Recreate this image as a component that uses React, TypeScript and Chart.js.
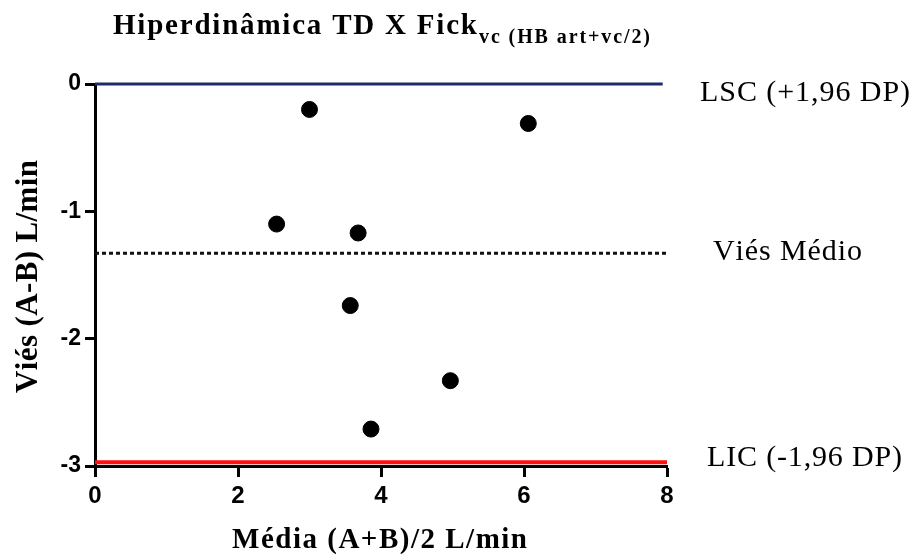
import React, { useEffect, useRef } from "react";
import { Chart, registerables } from "chart.js";

Chart.register(...registerables);

// ---- data ----
const meanX = [3.0, 6.06, 2.54, 3.68, 3.57, 4.97, 3.86];
const diffY = [-0.2, -0.31, -1.1, -1.17, -1.74, -2.33, -2.71];
const upperLimit = 0;
const meanBias = -1.33;
const lowerLimit = -2.97;
const xTicks = [0, 2, 4, 6, 8];
const yTicks = [0, -1, -2, -3];
const limitLabels = ["LSC (+1,96 DP)", "Viés Médio", "LIC (-1,96 DP)"];
const titleMain = "Hiperdinâmica TD X Fick";
const titleSub = "vc (HB art+vc/2)";
const xTitle = "Média (A+B)/2 L/min";
const yTitle = "Viés (A-B) L/min";

const SERIF = "'Liberation Serif', 'Times New Roman', Times, serif";
const SANS = "'Liberation Sans', Arial, Helvetica, sans-serif";

function drawSpaced(ctx: CanvasRenderingContext2D, text: string, x: number, y: number, width: number) {
  const chars = Array.from(text);
  const widths = chars.map((c) => ctx.measureText(c).width);
  const total = widths.reduce((a, b) => a + b, 0);
  const gap = chars.length > 1 ? (width - total) / (chars.length - 1) : 0;
  let cx = x;
  chars.forEach((c, i) => {
    ctx.fillText(c, cx, y);
    cx += widths[i] + gap;
  });
}

const textPlugin = {
  id: "textPlugin",
  afterDraw(chart: any) {
    const ctx: CanvasRenderingContext2D = chart.ctx;
    const ys = chart.scales.y;
    ctx.save();
    ctx.fillStyle = "#000";
    ctx.textAlign = "left";
    ctx.textBaseline = "alphabetic";
    // title
    ctx.font = `bold 29px ${SERIF}`;
    drawSpaced(ctx, titleMain, 113, 34, 364);
    ctx.font = `bold 20px ${SERIF}`;
    drawSpaced(ctx, titleSub, 479, 43, 171);
    // x title
    ctx.font = `bold 29px ${SERIF}`;
    drawSpaced(ctx, xTitle, 232, 548, 295);
    // y title
    ctx.save();
    ctx.font = `bold 31px ${SERIF}`;
    ctx.translate(37, 393);
    ctx.rotate(-Math.PI / 2);
    drawSpaced(ctx, yTitle, 0, 0, 233);
    ctx.restore();
    // right labels
    ctx.font = `30px ${SERIF}`;
    ctx.textBaseline = "middle";
    drawSpaced(ctx, limitLabels[0], 700, ys.getPixelForValue(upperLimit) + 9, 210);
    drawSpaced(ctx, limitLabels[1], 713, ys.getPixelForValue(meanBias) - 1, 149);
    drawSpaced(ctx, limitLabels[2], 707, ys.getPixelForValue(lowerLimit) - 4, 195);
    ctx.restore();
  },
};

export default function App() {
  const ref = useRef<HTMLCanvasElement>(null);
  useEffect(() => {
    if (!ref.current) return;
    const chart = new Chart(ref.current, {
      type: "scatter",
      data: {
        datasets: [
          {
            label: "pts",
            data: meanX.map((x, i) => ({ x, y: diffY[i] })),
            backgroundColor: "#000",
            borderColor: "#000",
            pointRadius: 8,
            pointHoverRadius: 8,
            order: 0,
          },
          {
            label: "LSC",
            data: [{ x: 0, y: upperLimit }, { x: 7.94, y: upperLimit }],
            showLine: true,
            borderColor: "#1b2d6b",
            borderWidth: 3,
            pointRadius: 0,
            clip: false,
            order: 1,
          },
          {
            label: "mean",
            data: [{ x: 0, y: meanBias }, { x: 8, y: meanBias }],
            showLine: true,
            borderColor: "#111",
            borderWidth: 3,
            borderDash: [4, 3],
            pointRadius: 0,
            clip: false,
            order: 1,
          },
          {
            label: "LIC",
            data: [{ x: 0, y: lowerLimit }, { x: 8, y: lowerLimit }],
            showLine: true,
            borderColor: "#ff1010",
            borderWidth: 4,
            pointRadius: 0,
            clip: false,
            order: 1,
          },
        ],
      },
      options: {
        animation: false,
        responsive: false,
        layout: { padding: { left: 0, right: 249, top: 84, bottom: 0 } },
        plugins: { legend: { display: false }, tooltip: { enabled: false }, title: { display: false } },
        scales: {
          x: {
            type: "linear",
            min: 0,
            max: 8,
            afterBuildTicks: (s: any) => {
              s.ticks = xTicks.map((v) => ({ value: v }));
            },
            afterFit: (s: any) => {
              s.height = 88;
            },
            grid: { drawOnChartArea: false, tickLength: 11, tickWidth: 3, tickColor: "#000" },
            border: { display: true, width: 3, color: "#000" },
            ticks: {
              color: "#000",
              font: { family: SANS, weight: "bold", size: 24 },
              padding: 5,
              maxRotation: 0,
            },
          },
          y: {
            type: "linear",
            min: -3,
            max: 0,
            afterBuildTicks: (s: any) => {
              s.ticks = yTicks.map((v) => ({ value: v }));
            },
            afterFit: (s: any) => {
              s.width = 95;
            },
            grid: { drawOnChartArea: false, tickLength: 10, tickWidth: 3, tickColor: "#000" },
            border: { display: true, width: 3, color: "#000" },
            ticks: {
              color: "#000",
              font: { family: SANS, weight: "bold", size: 23 },
              padding: 4,
            },
          },
        },
      },
      plugins: [textPlugin],
    });
    return () => chart.destroy();
  }, []);
  return (
    <div style={{ position: "fixed", left: 0, top: 0, width: 916, height: 554, background: "#fff" }}>
      <canvas ref={ref} width={916} height={554} />
    </div>
  );
}
